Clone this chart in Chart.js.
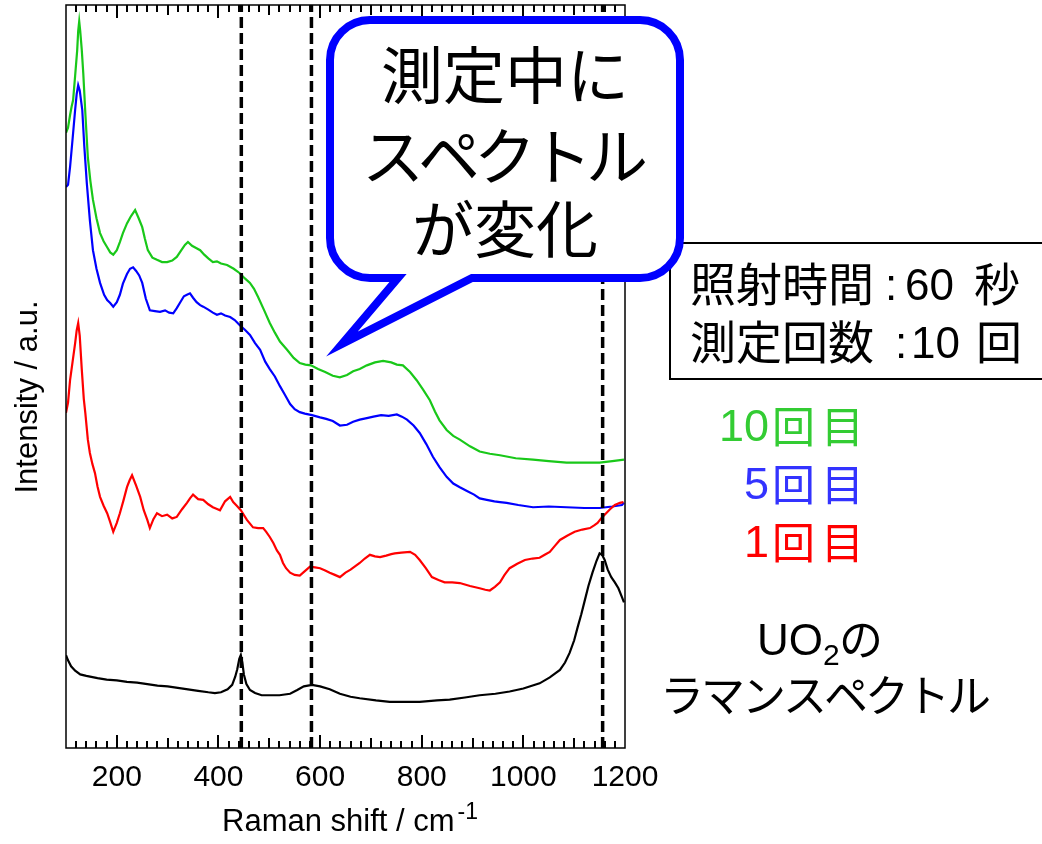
<!DOCTYPE html>
<html lang="ja">
<head>
<meta charset="utf-8">
<title>UO2 Raman spectra</title>
<script src="https://cdn.jsdelivr.net/npm/chart.js@4.4.1/dist/chart.umd.min.js"></script>
<style>
  html, body { margin: 0; padding: 0; background: #fff; }
  #wrap { width: 1042px; height: 844px; }
</style>
</head>
<body>
<div id="wrap"><canvas id="c" width="1042" height="844"></canvas></div>
<script>
// Raman shift (cm^-1) vs intensity (a.u., offset traces)
const tickLabels = [200, 400, 600, 800, 1000, 1200];
const referencePeaks = [445, 583, 1156];

// 10th acquisition
const spectrum10 = [
  [100,82.8],[104,83.5],[108,85.2],[111,86.3],[114,87.2],[118,90.5],[122,93.9],[124,96.5],[126,97.8],[128,96.5],
  [131,94.0],[134,90.8],[138,85.5],[143,79.5],[148,76.3],[153,73.8],[160,71.3],[167,69.3],[174,68.2],[181,67.4],
  [187,66.7],[193,66.4],[200,67.0],[206,68.1],[212,69.3],[220,70.6],[228,71.6],[236,72.4],[243,71.3],[250,70.1],
  [255,68.6],[261,67.0],[270,66.0],[279,65.7],[289,65.4],[299,65.4],[309,65.6],[318,66.1],[327,67.0],[334,67.7],
  [340,68.1],[348,67.6],[356,67.3],[364,67.0],[372,66.4],[380,65.9],[389,65.4],[397,65.5],[405,65.2],[417,65.0],
  [430,64.5],[442,63.9],[452,63.2],[462,62.6],[470,61.8],[478,60.7],[490,58.9],[501,57.2],[511,55.9],[521,54.7],
  [535,53.6],[548,52.5],[560,51.8],[571,51.6],[582,51.5],[596,51.0],[610,50.6],[625,50.1],[639,49.9],[653,50.2],
  [665,50.7],[678,51.0],[692,51.5],[708,51.9],[724,52.1],[740,51.9],[751,51.6],[763,51.5],[777,50.6],[790,49.5],
  [803,48.2],[816,46.8],[826,45.3],[835,44.1],[849,42.8],[862,42.0],[875,41.5],[895,40.6],[914,39.9],[934,39.6],
  [954,39.4],[985,39.0],[1019,38.8],[1050,38.6],[1085,38.4],[1120,38.4],[1150,38.4],[1175,38.6],[1198,38.8]
];

// 5th acquisition
const spectrum5 = [
  [100,75.5],[104,75.8],[108,78.2],[113,82.0],[118,85.9],[121,88.0],[124,89.2],[127,88.5],[132,85.9],[136,81.0],
  [141,76.0],[147,71.0],[153,67.0],[160,64.5],[167,62.6],[175,61.0],[181,60.3],[187,59.9],[193,59.4],[200,60.0],
  [206,61.0],[212,62.5],[220,63.8],[226,64.5],[232,64.7],[238,64.2],[244,63.6],[250,62.6],[257,60.5],[265,58.9],
  [275,58.8],[285,58.7],[295,58.9],[303,58.6],[311,58.5],[318,59.2],[324,59.9],[332,60.8],[338,61.0],[344,61.2],
  [350,60.6],[357,60.0],[364,59.6],[370,59.4],[380,59.0],[389,58.6],[397,58.3],[405,58.5],[413,58.2],[423,58.0],
  [432,57.6],[442,56.9],[452,56.3],[462,55.6],[472,54.5],[482,53.6],[492,52.0],[501,51.0],[511,50.0],[521,48.7],
  [531,47.5],[541,46.3],[550,45.6],[560,45.2],[570,45.0],[584,44.8],[600,44.5],[612,44.3],[625,44.0],[639,43.4],
  [653,43.5],[665,43.9],[678,44.2],[692,44.4],[705,44.6],[720,44.8],[735,44.7],[751,44.9],[761,44.6],[771,44.2],
  [784,43.4],[796,42.4],[809,40.9],[822,39.2],[835,37.8],[849,36.5],[862,35.6],[875,35.1],[889,34.6],[903,34.1],
  [914,33.6],[928,33.4],[943,33.2],[954,33.1],[967,33.0],[990,32.7],[1019,32.4],[1050,32.5],[1085,32.4],[1120,32.3],
  [1150,32.3],[1175,32.5],[1194,32.7],[1198,33.0]
];

// 1st acquisition
const spectrum1 = [
  [100,45.1],[104,46.5],[108,49.5],[113,52.0],[118,54.5],[121,56.2],[124,57.2],[127,55.5],[131,51.0],[135,47.0],
  [138,45.1],[143,41.5],[147,39.7],[152,38.2],[157,37.0],[162,35.2],[167,33.8],[174,32.6],[181,31.6],[187,30.4],
  [193,29.1],[200,30.3],[206,31.6],[213,33.3],[220,35.1],[225,36.0],[230,36.7],[238,35.3],[246,33.8],[253,32.0],
  [260,30.7],[265,29.6],[272,30.8],[279,31.6],[289,31.2],[299,31.4],[309,30.9],[318,31.1],[328,32.1],[338,33.0],
  [344,33.6],[350,34.1],[360,33.5],[370,33.4],[380,32.8],[389,32.4],[396,32.2],[403,32.0],[413,33.2],[423,33.8],
  [429,33.1],[436,32.6],[444,32.0],[456,30.7],[468,29.7],[478,29.6],[488,29.6],[494,29.1],[501,28.4],[508,27.6],
  [515,26.6],[521,26.0],[527,24.9],[533,24.2],[541,23.6],[550,23.3],[560,23.2],[570,23.8],[580,24.4],[590,24.3],
  [600,24.2],[610,23.9],[619,23.6],[629,23.3],[639,23.0],[650,23.6],[660,24.0],[670,24.5],[678,24.9],[688,25.5],
  [698,26.0],[708,25.8],[718,25.7],[730,25.9],[740,26.1],[747,26.2],[760,26.3],[777,26.4],[787,26.0],[796,25.3],
  [808,24.2],[820,23.0],[833,22.6],[845,22.3],[860,22.3],[875,22.2],[895,21.8],[914,21.5],[925,21.3],[934,21.2],
  [944,21.7],[954,22.3],[963,23.3],[973,24.2],[988,24.8],[1003,25.3],[1018,25.5],[1032,25.6],[1042,26.0],[1052,26.4],
  [1062,27.2],[1072,28.0],[1087,28.6],[1101,29.1],[1116,29.4],[1131,29.6],[1140,30.0],[1146,30.3],[1153,30.9],[1160,31.4],
  [1170,32.1],[1180,32.7],[1190,33.0],[1197,33.1]
];

// UO2 reference
const spectrumUO2 = [
  [100,12.5],[104,11.8],[110,11.0],[118,10.4],[128,9.9],[140,9.7],[162,9.4],[180,9.2],[200,9.1],[220,8.9],
  [240,8.8],[260,8.6],[280,8.4],[300,8.3],[320,8.1],[340,7.9],[360,7.7],[380,7.5],[393,7.4],[405,7.5],
  [418,7.9],[427,8.5],[433,9.6],[437,10.6],[441,12.0],[444,12.5],[447,11.5],[450,9.9],[455,8.6],[462,7.8],
  [472,7.4],[485,7.1],[501,7.1],[520,7.1],[541,7.3],[555,7.8],[568,8.3],[584,8.5],[600,8.3],[619,7.9],
  [639,7.3],[660,6.9],[678,6.7],[710,6.4],[737,6.2],[770,6.2],[796,6.2],[830,6.4],[855,6.5],[885,6.8],
  [914,7.1],[945,7.3],[973,7.6],[1000,8.0],[1032,8.7],[1052,9.5],[1072,10.5],[1082,11.5],[1091,12.8],[1100,14.5],
  [1107,16.3],[1114,18.0],[1121,19.9],[1128,21.8],[1136,23.6],[1144,25.2],[1150,26.2],[1155,26.0],[1160,25.3],[1166,24.0],
  [1173,23.0],[1180,22.3],[1187,21.5],[1194,20.3],[1198,19.6]
];

const toPoints = arr => arr.map(([x, y]) => ({ x, y }));

const series = [
  { label: '10回目', data: spectrum10, color: '#19c819', order: 4 },
  { label: '5回目', data: spectrum5, color: '#0000ff', order: 3 },
  { label: '1回目', data: spectrum1, color: '#ff0000', order: 2 },
  { label: 'UO2', data: spectrumUO2, color: '#000000', order: 1 }
];

const datasets = series.map(s => ({
  label: s.label,
  data: toPoints(s.data),
  borderColor: s.color,
  borderWidth: 2.2,
  pointRadius: 0,
  tension: 0,
  fill: false,
  order: s.order
}));

referencePeaks.forEach(p => {
  datasets.push({
    label: 'peak ' + p,
    data: [{ x: p, y: 0 }, { x: p, y: 100 }],
    borderColor: '#000',
    borderWidth: 3.5,
    borderDash: [11, 5],
    pointRadius: 0,
    fill: false,
    order: 0
  });
});

const LATIN = '"Liberation Sans", Arial, sans-serif';
const CJK = '"Noto Sans CJK JP", sans-serif';

const decor = {
  id: 'decor',
  afterDatasetsDraw(chart) {
    const { ctx, chartArea: a, scales: { x } } = chart;
    ctx.save();
    ctx.strokeStyle = '#000';
    ctx.lineWidth = 2;
    // inward tick marks on bottom and top edges
    for (let v = 120; v < 1200; v += 20) {
      const len = v % 200 === 0 ? 13 : (v % 100 === 0 ? 10 : 7);
      const px = Math.round(x.getPixelForValue(v));
      ctx.beginPath();
      ctx.moveTo(px, a.bottom);
      ctx.lineTo(px, a.bottom - len);
      ctx.stroke();
      ctx.beginPath();
      ctx.moveTo(px, a.top);
      ctx.lineTo(px, a.top + len);
      ctx.stroke();
    }
    ctx.lineWidth = 1.5;
    ctx.strokeRect(a.left, a.top, a.right - a.left, a.bottom - a.top);
    ctx.restore();
  },
  afterDraw(chart) {
    const { ctx } = chart;
    ctx.save();
    ctx.fillStyle = '#000';

    // axis titles
    ctx.font = '31px ' + LATIN;
    ctx.textAlign = 'left';
    ctx.textBaseline = 'alphabetic';
    const xt = 'Raman shift / cm';
    const xtw = ctx.measureText(xt).width;
    const xtLeft = 222;
    ctx.fillText(xt, xtLeft, 831);
    ctx.font = '23px ' + LATIN;
    ctx.fillText('-1', xtLeft + xtw + 3, 819);

    ctx.save();
    ctx.translate(37, 397);
    ctx.rotate(-Math.PI / 2);
    ctx.font = '31px ' + LATIN;
    ctx.textAlign = 'center';
    ctx.fillText('Intensity / a.u.', 0, 0);
    ctx.restore();

    // measurement conditions box
    ctx.fillStyle = '#fff';
    ctx.fillRect(670, 243, 380, 136);
    ctx.strokeStyle = '#000';
    ctx.lineWidth = 2;
    ctx.strokeRect(670, 243, 380, 136);
    ctx.fillStyle = '#000';
    ctx.textAlign = 'left';
    ctx.font = '46px ' + CJK;
    ctx.fillText('照射時間', 690, 301);
    ctx.fillText('秒', 974, 301);
    ctx.fillText('測定回数', 690, 359);
    ctx.fillText('回', 976, 359);
    ctx.font = '44px ' + LATIN;
    ctx.fillText(':', 885, 300);
    ctx.fillText('60', 905, 300);
    ctx.fillText(':', 895, 358);
    ctx.fillText('10', 911, 358);

    // speech bubble
    const L = 330, T = 20, R = 680, B = 278, r = 40;
    ctx.beginPath();
    ctx.moveTo(L + r, T);
    ctx.lineTo(R - r, T);
    ctx.arcTo(R, T, R, T + r, r);
    ctx.lineTo(R, B - r);
    ctx.arcTo(R, B, R - r, B, r);
    ctx.lineTo(472, B);
    ctx.lineTo(342, 344);
    ctx.lineTo(398, B);
    ctx.lineTo(L + r, B);
    ctx.arcTo(L, B, L, B - r, r);
    ctx.lineTo(L, T + r);
    ctx.arcTo(L, T, L + r, T, r);
    ctx.closePath();
    ctx.fillStyle = '#fff';
    ctx.fill();
    ctx.lineWidth = 8;
    ctx.lineJoin = 'miter';
    ctx.miterLimit = 10;
    ctx.strokeStyle = '#0000ff';
    ctx.stroke();

    ctx.fillStyle = '#000';
    ctx.textAlign = 'center';
    ctx.textBaseline = 'middle';
    ctx.font = '62px ' + CJK;
    ctx.fillText('測定中に', 505, 75);
    ctx.letterSpacing = '-6px';
    ctx.fillText('スペクトル', 502, 156);
    ctx.letterSpacing = '0px';
    ctx.fillText('が変化', 505, 229);

    // series labels
    ctx.textBaseline = 'alphabetic';
    const labels = [
      { n: '10', c: '#33cc33', y: 441 },
      { n: '5', c: '#3333ff', y: 499 },
      { n: '1', c: '#ff0000', y: 557 }
    ];
    labels.forEach(l => {
      ctx.fillStyle = l.c;
      ctx.textAlign = 'right';
      ctx.font = '45px ' + LATIN;
      ctx.fillText(l.n, 769, l.y);
      ctx.textAlign = 'left';
      ctx.font = '43px ' + CJK;
      ctx.fillText('回', 772, l.y + 2);
      ctx.fillText('目', 821, l.y + 2);
    });

    // UO2 label
    ctx.fillStyle = '#000';
    ctx.textAlign = 'left';
    ctx.font = '44px ' + LATIN;
    ctx.fillText('UO', 757, 655);
    const uw = ctx.measureText('UO').width;
    ctx.font = '30px ' + LATIN;
    ctx.fillText('2', 757 + uw, 665);
    ctx.font = '44px ' + CJK;
    ctx.fillText('の', 757 + uw + 16, 656);
    ctx.textAlign = 'center';
    ctx.letterSpacing = '-3px';
    ctx.fillText('ラマンスペクトル', 824, 712);
    ctx.letterSpacing = '0px';

    ctx.restore();
  }
};

new Chart(document.getElementById('c'), {
  type: 'line',
  data: { datasets },
  options: {
    responsive: false,
    animation: false,
    devicePixelRatio: 1,
    layout: { padding: { left: 66, right: 417, top: 5, bottom: 48 } },
    plugins: { legend: { display: false }, tooltip: { enabled: false } },
    scales: {
      x: {
        type: 'linear',
        min: 100,
        max: 1200,
        afterBuildTicks: s => { s.ticks = tickLabels.map(v => ({ value: v })); },
        afterFit: s => { s.height = 48; },
        ticks: {
          font: { family: LATIN, size: 30 },
          color: '#000',
          padding: 12,
          maxRotation: 0,
          autoSkip: false,
          callback: v => String(v)
        },
        grid: { display: false, drawTicks: false },
        border: { display: false }
      },
      y: { display: false, min: 0, max: 100 }
    }
  },
  plugins: [decor]
});
</script>
</body>
</html>
